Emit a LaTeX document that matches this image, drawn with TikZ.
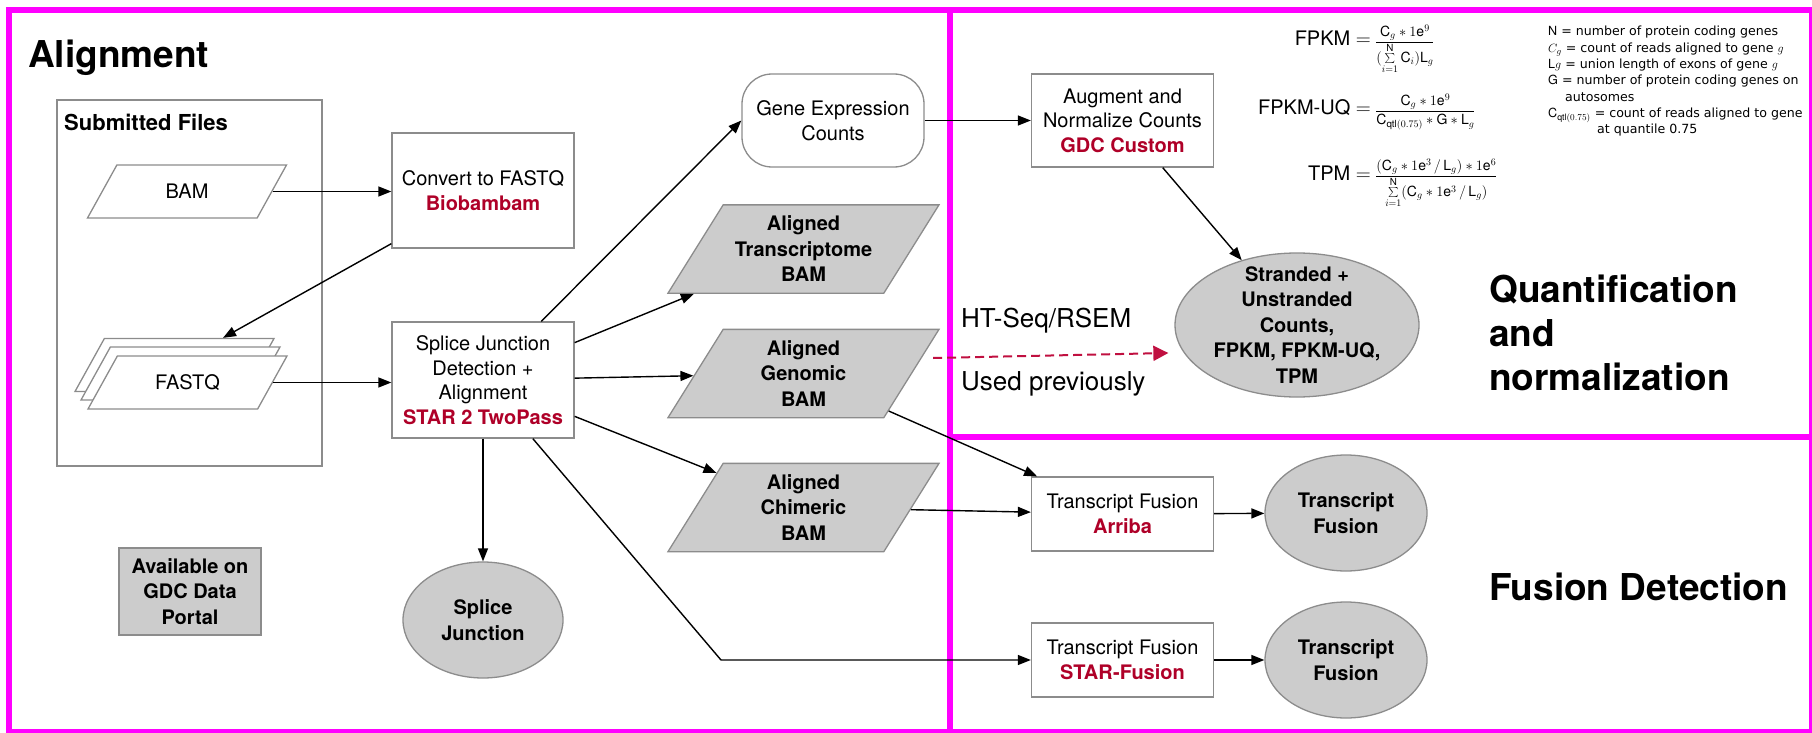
\documentclass[tikz,border=0pt]{standalone}
\usepackage{fontspec}
\setmainfont{TeX Gyre Heros}
\newfontfamily\legendfont{DejaVu Sans}
\usetikzlibrary{arrows.meta,shapes.geometric}
\definecolor{mag}{RGB}{255,0,255}
\definecolor{gdcred}{RGB}{175,0,40}
\definecolor{dashred}{RGB}{192,16,64}
\definecolor{shapegray}{RGB}{204,204,204}
\definecolor{bordergray}{RGB}{140,140,140}
\newcommand{\fsz}[2]{\fontsize{#1}{#2}\selectfont}
\newcommand{\tool}[1]{{\bfseries\color{gdcred}#1}}
\tikzset{
  framepen/.style={draw=mag, line width=6pt},
  procbox/.style={rectangle, draw=bordergray, fill=white, line width=1.3pt,
    minimum width=182pt, align=center, inner sep=0pt, font=\fsz{20}{24.5}},
  datagray/.style={trapezium, trapezium left angle=58, trapezium right angle=122,
    trapezium stretches body, minimum width=271pt, minimum height=88pt,
    draw=bordergray, fill=shapegray, line width=1.3pt, align=center,
    inner xsep=0pt, inner ysep=11.2pt, font=\bfseries\fsz{20}{25.5}},
  datawhite/.style={trapezium, trapezium left angle=61, trapezium right angle=119,
    trapezium stretches body, minimum width=199pt, minimum height=53pt,
    text height=14pt, text depth=0pt, inner xsep=0pt, inner ysep=19.5pt,
    draw=bordergray, fill=white, line width=1.3pt, font=\fsz{20}{24}},
  result/.style={ellipse, draw=bordergray, fill=shapegray, line width=1.3pt,
    align=center, inner sep=0pt, font=\bfseries\fsz{20}{25.5}},
  conn/.style={draw=black, line width=1.4pt, -{Triangle[length=13pt,width=10pt]}},
  dashconn/.style={draw=dashred, line width=2pt, dash pattern=on 9pt off 5pt,
    -{Triangle[length=15pt,width=15pt]}},
  heading/.style={anchor=base west, inner sep=0pt, font=\bfseries\fsz{37}{44}},
  note/.style={anchor=base west, inner sep=0pt, font=\fsz{26}{30}},
  fml/.style={anchor=base east, inner sep=0pt, font=\fsz{20}{24}},
  fmlfrac/.style={anchor=base west, inner sep=0pt, font=\fsz{14}{16}},
  legend/.style={anchor=base west, inner sep=0pt, font=\legendfont\fsz{12.6}{16}},
}
\begin{document}
\begin{tikzpicture}[x=1pt,y=-1pt]
\useasboundingbox (0,0) rectangle (1812,733);
% region frames
\draw[framepen] (9,10) rectangle (1812,732);
\draw[framepen] (950,10) -- (950,732);
\draw[framepen] (950,437) -- (1812,437);

% headings
\node[heading] (talign) at (28,68) {Alignment};
\node[heading] (tquant1) at (1489,302) {Quantification};
\node[heading] (tquant2) at (1489,346) {and};
\node[heading] (tquant3) at (1489,390) {normalization};
\node[heading] (tfusion) at (1489,600) {Fusion Detection};

% submitted files
\node[draw=bordergray, line width=1.3pt, minimum width=265pt, minimum height=366pt, inner sep=0pt] (subm) at (189.5,283) {};
\node[anchor=base west, inner sep=0pt, font=\bfseries\fsz{22}{26}] (tsubm) at (64,131) {Submitted Files};
\node[datawhite] (bam) at (187,191.5) {BAM};
\node[datawhite] (fqback) at (174.5,365) {};
\node[datawhite] (fqmid) at (180.5,373.5) {};
\node[datawhite] (fqfront) at (187.5,382.5) {FASTQ};

% processes
\node[procbox, minimum height=115pt] (conv) at (483,190.5) {Convert to FASTQ\\\tool{Biobambam}};
\node[procbox, minimum height=116pt] (splice) at (483,380) {Splice Junction\\Detection +\\Alignment\\\tool{STAR 2 TwoPass}};
\node[procbox, minimum height=93pt, rounded corners=30pt] (gexp) at (833,120.5) {Gene Expression\\Counts};
\node[datagray] (trans) at (803.5,249) {Aligned\\Transcriptome\\BAM};
\node[datagray] (geno) at (803.5,373.5) {Aligned\\Genomic\\BAM};
\node[datagray] (chim) at (803.5,507.5) {Aligned\\Chimeric\\BAM};
\node[result, minimum width=160pt, minimum height=116pt] (sj) at (483,620) {Splice\\Junction};
\node[rectangle, draw=bordergray, fill=shapegray, line width=1.3pt, minimum width=142pt, minimum height=87pt, align=center, inner sep=0pt, font=\bfseries\fsz{20}{25.5}] (avail) at (190,591.5) {Available on\\GDC Data\\Portal};
\node[procbox, minimum height=93pt] (aug) at (1122.5,120.5) {Augment and\\Normalize Counts\\\tool{GDC Custom}};
\node[result, minimum width=244pt, minimum height=144pt,
  label={[font=\bfseries\fsz{20}{25.5}, align=center]center:{Stranded +\\Unstranded\\Counts,\\FPKM, FPKM-UQ,\\TPM}}] (strand) at (1297,325) {};
\node[procbox, minimum height=74pt] (arriba) at (1122.5,514) {Transcript Fusion\\\tool{Arriba}};
\node[procbox, minimum height=74pt] (starf) at (1122.5,660) {Transcript Fusion\\\tool{STAR-Fusion}};
\node[result, minimum width=162pt, minimum height=116pt] (tf1) at (1346,513) {Transcript\\Fusion};
\node[result, minimum width=162pt, minimum height=116pt] (tf2) at (1346,660) {Transcript\\Fusion};

% notes
\node[note] (tht) at (961,327) {HT-Seq/RSEM};
\node[note] (tused) at (961,390) {Used previously};

% formulas
\node[fml] (lfpkm) at (1371,46) {FPKM \(=\)};
\node[fmlfrac] (ffpkm) at (1375,46) {$\displaystyle\frac{\mathrm{C}_g \ast 1\mathrm{e}^9}{\bigl(\sum\limits_{i=1}^{\mathrm{N}}\mathrm{C}_i\bigr)\mathrm{L}_g}$};
\node[fml] (luq) at (1371,115) {FPKM-UQ \(=\)};
\node[fmlfrac] (fuq) at (1375,115) {$\displaystyle\frac{\mathrm{C}_g \ast 1\mathrm{e}^9}{\mathrm{C}_{\mathrm{qtl}(0.75)} \ast \mathrm{G} \ast \mathrm{L}_g}$};
\node[fml] (ltpm) at (1371,180) {TPM \(=\)};
\node[fmlfrac] (ftpm) at (1375,180) {$\displaystyle\frac{(\mathrm{C}_g \ast 1\mathrm{e}^3 \,/\, \mathrm{L}_g) \ast 1\mathrm{e}^6}{\sum\limits_{i=1}^{\mathrm{N}}(\mathrm{C}_g \ast 1\mathrm{e}^3 \,/\, \mathrm{L}_g)}$};

% legend
\node[legend] (lg1) at (1548,36) {$\mathrm{N}$ = number of protein coding genes};
\node[legend] (lg2) at (1548,52.3) {$C_g$ = count of reads aligned to gene $g$};
\node[legend] (lg3) at (1548,68.6) {$\mathrm{L}g$ = union length of exons of gene $g$};
\node[legend] (lg4) at (1548,84.9) {$\mathrm{G}$ = number of protein coding genes on};
\node[legend] (lg5) at (1565,101.2) {autosomes};
\node[legend] (lg6) at (1548,117.5) {$\mathrm{C}_{\mathrm{qtl}(0.75)}$ = count of reads aligned to gene};
\node[legend] (lg7) at (1597,133.8) {at quantile 0.75};

% connectors
\coordinate (bend) at (721,660);
\draw[conn] (bam.east) -- (bam.east -| conv.west);
\draw[conn] ([yshift=5pt]conv.south west) -- (fqback);
\draw[conn] (fqfront.east) -- (fqfront.east -| splice.west);
\draw[conn] (splice) -- (gexp.west);
\draw[conn] (splice) -- (trans);
\draw[conn] (splice) -- (geno);
\draw[conn] (splice) -- (chim);
\draw[conn] (splice) -- (sj);
\draw[conn] (splice) -- (bend) -- (starf);
\draw[conn] (gexp) -- (aug);
\draw[conn] (aug) -- (strand);
\draw[conn] (geno) -- (arriba);
\draw[conn] (chim) -- (arriba);
\draw[conn] (arriba) -- (tf1);
\draw[conn] (starf) -- (tf2);
\draw[dashconn] ([xshift=21pt,yshift=15.5pt]geno.east) -- ([xshift=-6pt,yshift=-28pt]strand.west);
\end{tikzpicture}
\end{document}
